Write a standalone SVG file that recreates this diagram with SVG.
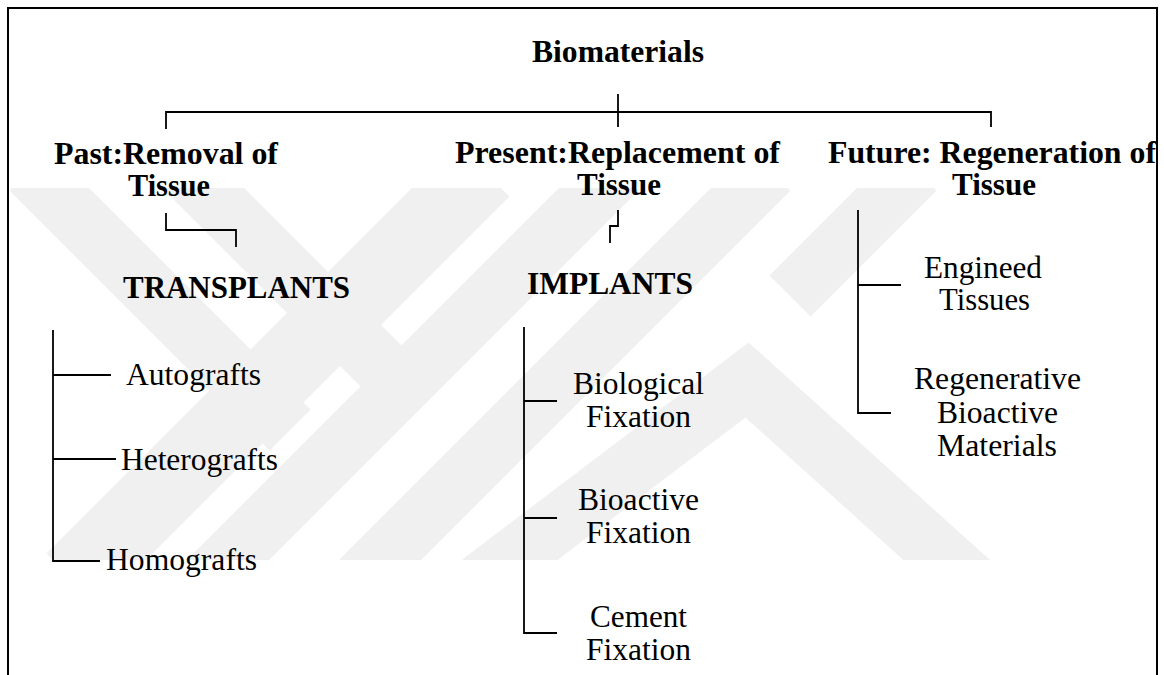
<svg xmlns="http://www.w3.org/2000/svg" width="1164" height="675" viewBox="0 0 1164 675">
<style>
.h{font-family:'Liberation Serif','Times New Roman',serif;font-weight:bold;font-size:31px;fill:#000}
.t{font-family:'Liberation Serif','Times New Roman',serif;font-size:31px;fill:#000}
.c{fill:none;stroke:#000;stroke-width:1.8}
.wm{fill:none;stroke:#f0f0f0;stroke-width:58}
</style>
<defs>
<clipPath id="wmclip"><rect x="10" y="188" width="1145" height="372"/></clipPath>
</defs>
<rect width="1164" height="675" fill="#fff"/>
<g id="watermark" clip-path="url(#wmclip)">
<line class="wm" x1="30" y1="170" x2="290" y2="430"/>
<line class="wm" x1="483" y1="170" x2="73" y2="580" style="stroke-width:75"/>
<line class="wm" x1="185" y1="170" x2="420" y2="405"/>
<line class="wm" x1="618" y1="170" x2="208" y2="580"/>
<line class="wm" x1="770" y1="170" x2="360" y2="580"/>
<polyline class="wm" points="470,590 747,380 980,590"/>
<line class="wm" x1="916" y1="170" x2="790" y2="296"/>
</g>
<path id="frame" d="M8,680 V8 H1157 V680" fill="none" stroke="#000" stroke-width="2"/>
<g id="connectors">
<path class="c" d="M166,129 V112 H991 V127"/>
<path class="c" d="M618,94 V127"/>
<path class="c" d="M166,213 V230 H236 V247"/>
<path class="c" d="M618,210 V226 H610 V243"/>
<path class="c" d="M53,330 V561 H100"/>
<path class="c" d="M53,375 H111"/>
<path class="c" d="M53,459 H116"/>
<path class="c" d="M524,327 V633 H557"/>
<path class="c" d="M524,401 H557"/>
<path class="c" d="M524,518 H557"/>
<path class="c" d="M858,210 V413 H891"/>
<path class="c" d="M858,285 H901"/>
</g>
<g id="biomaterials"><text class="h" x="532" y="62" textLength="172" lengthAdjust="spacingAndGlyphs">Biomaterials</text></g>
<g id="past">
<text class="h" x="54" y="164" textLength="224" lengthAdjust="spacingAndGlyphs">Past:Removal of</text>
<text class="h" x="128" y="196" textLength="82" lengthAdjust="spacingAndGlyphs">Tissue</text>
</g>
<g id="present">
<text class="h" x="455" y="163" textLength="325" lengthAdjust="spacingAndGlyphs">Present:Replacement of</text>
<text class="h" x="577" y="195" textLength="84" lengthAdjust="spacingAndGlyphs">Tissue</text>
</g>
<g id="future">
<text class="h" x="828" y="163" textLength="328" lengthAdjust="spacingAndGlyphs">Future: Regeneration of</text>
<text class="h" x="952" y="195" textLength="84" lengthAdjust="spacingAndGlyphs">Tissue</text>
</g>
<g id="transplants"><text class="h" x="123" y="298" textLength="227" lengthAdjust="spacingAndGlyphs">TRANSPLANTS</text></g>
<g id="implants"><text class="h" x="527" y="294" textLength="166" lengthAdjust="spacingAndGlyphs">IMPLANTS</text></g>
<g id="autografts"><text class="t" x="126" y="385" textLength="135" lengthAdjust="spacingAndGlyphs">Autografts</text></g>
<g id="heterografts"><text class="t" x="121" y="470" textLength="157" lengthAdjust="spacingAndGlyphs">Heterografts</text></g>
<g id="homografts"><text class="t" x="106" y="570" textLength="151" lengthAdjust="spacingAndGlyphs">Homografts</text></g>
<g id="biological">
<text class="t" x="573" y="394" textLength="131" lengthAdjust="spacingAndGlyphs">Biological</text>
<text class="t" x="586" y="427" textLength="105" lengthAdjust="spacingAndGlyphs">Fixation</text>
</g>
<g id="bioactive-fix">
<text class="t" x="578" y="510" textLength="121" lengthAdjust="spacingAndGlyphs">Bioactive</text>
<text class="t" x="586" y="543" textLength="105" lengthAdjust="spacingAndGlyphs">Fixation</text>
</g>
<g id="cement">
<text class="t" x="590" y="627" textLength="97" lengthAdjust="spacingAndGlyphs">Cement</text>
<text class="t" x="586" y="660" textLength="105" lengthAdjust="spacingAndGlyphs">Fixation</text>
</g>
<g id="engineered">
<text class="t" x="924" y="278" textLength="118" lengthAdjust="spacingAndGlyphs">Engineed</text>
<text class="t" x="939" y="310" textLength="91" lengthAdjust="spacingAndGlyphs">Tissues</text>
</g>
<g id="regenerative">
<text class="t" x="914" y="389" textLength="167" lengthAdjust="spacingAndGlyphs">Regenerative</text>
<text class="t" x="937" y="423" textLength="121" lengthAdjust="spacingAndGlyphs">Bioactive</text>
<text class="t" x="937" y="456" textLength="120" lengthAdjust="spacingAndGlyphs">Materials</text>
</g>
</svg>
